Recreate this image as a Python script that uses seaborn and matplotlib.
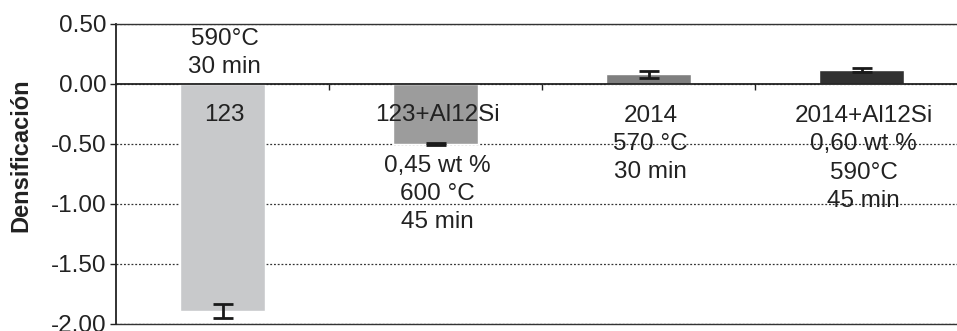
import matplotlib
matplotlib.use("Agg")
import matplotlib.pyplot as plt
import seaborn as sns
import pandas as pd

# Densification results per alloy / condition
categories = ["123", "123+Al12Si", "2014", "2014+Al12Si"]
densification = [-1.89, -0.50, 0.08, 0.117]
errors = [0.06, 0.012, 0.028, 0.015]
bar_colors = ["#c8c9cb", "#9c9c9c", "#7f7f7f", "#313131"]

# Processing-condition annotations (text, x category, y position)
annotations = [
    ("590°C\n30 min", 0, 0.26),
    ("123", 0, -0.26),
    ("123+Al12Si", 1, -0.26),
    ("0,45 wt %\n600 °C\n45 min", 1, -0.915),
    ("2014\n570 °C\n30 min", 2, -0.50),
    ("2014+Al12Si\n0,60 wt %\n590°C\n45 min", 3, -0.62),
]
y_ticks = [0.50, 0.00, -0.50, -1.00, -1.50, -2.00]

sns.set_theme(style="white")
plt.rcParams["font.family"] = ["Liberation Sans", "DejaVu Sans"]

df = pd.DataFrame({"muestra": categories, "dens": densification})

fig = plt.figure(figsize=(9.57, 3.31), dpi=100)
ax = fig.add_axes([116 / 957, 1 - 324 / 331, (968 - 116) / 957, 300 / 331])

# dotted grid lines behind the bars
for t in y_ticks:
    ax.axhline(t, color="#333333", lw=0.9, ls=(0, (1.5, 1.5)), zorder=0)

sns.barplot(data=df, x="muestra", y="dens", hue="muestra", palette=bar_colors,
            width=0.40, legend=False, ax=ax, zorder=2, saturation=1)

ax.errorbar(range(len(categories)), densification, yerr=errors, fmt="none",
            ecolor="#1a1a1a", elinewidth=2.0, capsize=7, capthick=2.0, zorder=3)

for txt, xi, yi in annotations:
    ax.text(xi + 0.01, yi, txt, ha="center", va="center", fontsize=17.5,
            color="#222222", linespacing=1.37, zorder=4)

ax.set_ylim(-2.0, 0.5)
ax.set_xlim(-0.5, 3.5)
ax.set_yticks(y_ticks)
ax.set_yticklabels([f"{t:.2f}" for t in y_ticks], fontsize=17.5, color="#222222")
ax.set_xticks([0.5, 1.5, 2.5])
ax.set_xticklabels([])
ax.set_xlabel("")
ax.set_ylabel("")
fig.text(20.5 / 957, 1 - 155 / 331, "Densificación", rotation=90, ha="center", va="center",
         fontsize=17, fontweight="bold", color="#222222")

ax.spines["bottom"].set_position(("data", 0))
ax.spines["bottom"].set_color("#222222")
ax.spines["bottom"].set_linewidth(1.3)
ax.spines["left"].set_color("#222222")
ax.spines["left"].set_linewidth(1.3)
ax.spines["top"].set_color("#333333")
ax.spines["top"].set_linewidth(1.0)
ax.spines["right"].set_visible(False)
ax.axhline(-2.0, color="#333333", lw=1.0, zorder=1, clip_on=False)

ax.tick_params(axis="y", direction="out", length=4, width=1.0, color="#222222", pad=3, left=True)
ax.tick_params(axis="x", direction="out", length=4, width=1.0, color="#222222", bottom=True)

fig.savefig("out.png", dpi=100)
